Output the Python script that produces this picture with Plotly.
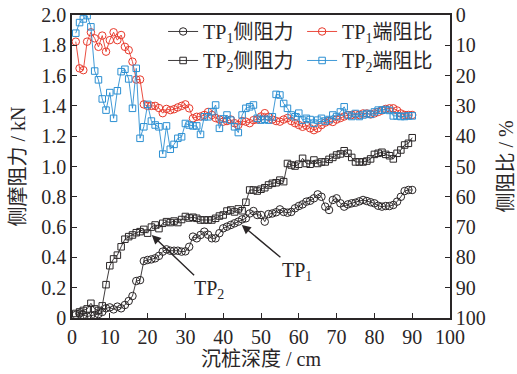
import plotly.graph_objects as go

depth = list(range(1, 91))

tp1_side = [0.02, 0.03, 0.02, 0.01, 0.015, 0.02, 0.026, 0.04, 0.064, 0.07,
            0.057, 0.075, 0.064, 0.086, 0.112, 0.145, 0.244, 0.25, 0.376, 0.383,
            0.387, 0.394, 0.41, 0.438, 0.453, 0.444, 0.444, 0.444, 0.438, 0.44,
            0.47, 0.537, 0.526, 0.548, 0.57, 0.55, 0.526, 0.526, 0.56, 0.592,
            0.603, 0.614, 0.625, 0.636, 0.651, 0.658, 0.69, 0.706, 0.68, 0.68,
            0.636, 0.686, 0.69, 0.698, 0.717, 0.70, 0.695, 0.70, 0.724, 0.739,
            0.75, 0.768, 0.774, 0.79, 0.816, 0.80, 0.735, 0.713, 0.779, 0.79,
            0.757, 0.735, 0.75, 0.757, 0.761, 0.77, 0.779, 0.772, 0.764, 0.757,
            0.741, 0.735, 0.739, 0.739, 0.746, 0.768, 0.80, 0.838, 0.845, 0.845]

tp2_side = [0.03, 0.04, 0.05, 0.06, 0.097, 0.06, 0.05, 0.08, 0.22, 0.345,
            0.39, 0.415, 0.47, 0.52, 0.537, 0.548, 0.563, 0.57, 0.585, 0.56,
            0.60, 0.614, 0.59, 0.625, 0.636, 0.63, 0.64, 0.63, 0.65, 0.67,
            0.66, 0.665, 0.658, 0.647, 0.647, 0.647, 0.647, 0.658, 0.673, 0.68,
            0.706, 0.713, 0.70, 0.72, 0.708, 0.764, 0.845, 0.845, 0.838, 0.85,
            0.86, 0.878, 0.889, 0.893, 0.91, 0.90, 1.02, 1.01, 1.003, 1.015,
            1.054, 1.02, 1.015, 1.043, 1.02, 1.03, 1.03, 1.047, 1.06, 1.076,
            1.083, 1.104, 1.087, 1.06, 1.03, 1.03, 1.03, 1.036, 1.05, 1.08,
            1.087, 1.094, 1.08, 1.071, 1.05, 1.087, 1.109, 1.142, 1.153, 1.19]

tp1_ratio = [8.8, 17.6, 18.2, 8.8, 5.7, 7.7, 10.5, 6.8, 12.1, 8.3,
             5.7, 8.3, 6.6, 10.5, 11.6, 15.4, 21.3, 21.3, 29.5, 30.0,
             30.0, 30.0, 30.7, 32.4, 31.0, 31.4, 31.1, 30.5, 30.0, 29.5,
             30.8, 34.1, 33.6, 33.5, 33.0, 32.0, 33.0, 34.0, 34.5, 35.2,
             35.0, 34.5, 35.7, 36.3, 35.0, 35.2, 35.7, 34.7, 34.5, 33.5,
             32.4, 33.6, 34.5, 35.0, 35.2, 34.5, 34.0, 35.0, 35.7, 36.3,
             36.9, 36.5, 37.4, 38.0, 37.4, 36.3, 35.5, 35.0, 35.3, 34.5,
             34.0, 33.5, 33.0, 33.0, 32.8, 33.0, 32.5, 32.5, 32.8, 32.5,
             32.0, 31.5, 31.0, 30.8, 30.8, 31.5, 32.5, 33.0, 33.0, 33.0]

tp2_ratio = [6.0, 2.5, 1.3, 0.2, 3.9, 18.5, 21.4, 27.7, 31.4, 25.6,
             34.1, 25.0, 18.7, 17.9, 21.1, 30.8, 17.6, 40.7, 36.9, 29.5,
             35.0, 36.3, 36.9, 45.9, 36.6, 44.3, 42.7, 40.7, 40.2, 35.8,
             36.3, 36.6, 36.6, 39.4, 33.6, 33.6, 31.9, 29.7, 37.4, 34.3,
             33.0, 34.7, 36.9, 38.8, 33.0, 30.8, 30.3, 29.7, 34.1, 34.7,
             34.4, 34.7, 33.6, 26.2, 26.4, 29.2, 30.8, 33.0, 33.6, 32.4,
             34.7, 34.1, 34.5, 35.7, 34.7, 34.1, 35.0, 34.5, 33.0, 33.5,
             32.0, 30.3, 33.0, 33.5, 32.5, 33.5, 33.0, 32.5, 32.8, 32.0,
             31.4, 31.4, 31.2, 31.5, 33.3, 33.3, 33.5, 33.5, 33.3, 33.3]

x_ticks = list(range(0, 101, 10))
y_ticks = [0, 0.2, 0.4, 0.6, 0.8, 1.0, 1.2, 1.4, 1.6, 1.8, 2.0]
y_ticktext = ["0", "0.2", "0.4", "0.6", "0.8", "1.0", "1.2", "1.4", "1.6", "1.8", "2.0"]
y2_ticks = list(range(0, 101, 10))

BLACK = "#2a2627"
RED = "#e8392b"
BLUE = "#2b8fd2"
FONT = "Liberation Serif, 'Noto Sans CJK SC', serif"

fig = go.Figure()
fig.add_trace(go.Scatter(x=depth, y=tp1_side, name="TP<sub>1</sub>侧阻力", mode="lines+markers",
                         line=dict(color=BLACK, width=0.9),
                         marker=dict(symbol="circle-open", size=7.5, color=BLACK, line=dict(width=1))))
fig.add_trace(go.Scatter(x=depth, y=tp1_ratio, name="TP<sub>1</sub>端阻比", mode="lines+markers", yaxis="y2",
                         line=dict(color=RED, width=0.9),
                         marker=dict(symbol="circle-open", size=7.5, color=RED, line=dict(width=1))))
fig.add_trace(go.Scatter(x=depth, y=tp2_side, name="TP<sub>2</sub>侧阻力", mode="lines+markers",
                         line=dict(color=BLACK, width=0.9),
                         marker=dict(symbol="square-open", size=6.5, color=BLACK, line=dict(width=1))))
fig.add_trace(go.Scatter(x=depth, y=tp2_ratio, name="TP<sub>2</sub>端阻比", mode="lines+markers", yaxis="y2",
                         line=dict(color=BLUE, width=0.9),
                         marker=dict(symbol="square-open", size=6.5, color=BLUE, line=dict(width=1))))

axis_common = dict(showgrid=False, zeroline=False, showline=True, linecolor=BLACK, linewidth=1.5,
                   ticks="inside", ticklen=5, tickwidth=1.2, tickcolor=BLACK,
                   ticklabeloverflow="allow",
                   tickfont=dict(family=FONT, size=20, color=BLACK))

fig.update_layout(
    width=517, height=374,
    margin=dict(l=72, r=67, t=15, b=56, autoexpand=False),
    paper_bgcolor="white", plot_bgcolor="white",
    font=dict(family=FONT, size=20, color=BLACK),
    xaxis=dict(range=[0, 100], tickvals=x_ticks, mirror=True,
               title=dict(text="沉桩深度 / cm", font=dict(family=FONT, size=20, color=BLACK), standoff=1),
               **axis_common),
    yaxis=dict(range=[0, 2.0], tickvals=y_ticks, ticktext=y_ticktext,
               title=dict(text="侧摩阻力 / kN", font=dict(family=FONT, size=20, color=BLACK), standoff=10),
               **axis_common),
    yaxis2=dict(range=[100, 0], tickvals=y2_ticks, overlaying="y", side="right",
                title=dict(text="侧阻比 / %", font=dict(family=FONT, size=20, color=BLACK), standoff=14),
                **axis_common),
    legend=dict(orientation="h", x=0.241, xanchor="left", y=1.01, yanchor="top",
                entrywidth=94, bgcolor="rgba(0,0,0,0)", font=dict(family=FONT, size=20, color=BLACK),
                tracegroupgap=0),
    showlegend=True,
)

# labels with arrows
fig.add_annotation(x=21.1, y=0.548, ax=36.2, ay=0.19, axref="x", ayref="y", xref="x", yref="y",
                   text="TP<sub>2</sub>", showarrow=True, arrowhead=2, arrowsize=1.3, arrowwidth=1.4,
                   arrowcolor=BLACK, font=dict(family=FONT, size=20, color=BLACK))
fig.add_annotation(x=44.9, y=0.614, ax=59.5, ay=0.31, axref="x", ayref="y", xref="x", yref="y",
                   text="TP<sub>1</sub>", showarrow=True, arrowhead=2, arrowsize=1.3, arrowwidth=1.4,
                   arrowcolor=BLACK, font=dict(family=FONT, size=20, color=BLACK))

# remove the browser's default 8px body margin so the figure sits at the page origin
fig.write_html("out.html", config={"displayModeBar": False},
               post_script="document.body.style.margin='0';")
